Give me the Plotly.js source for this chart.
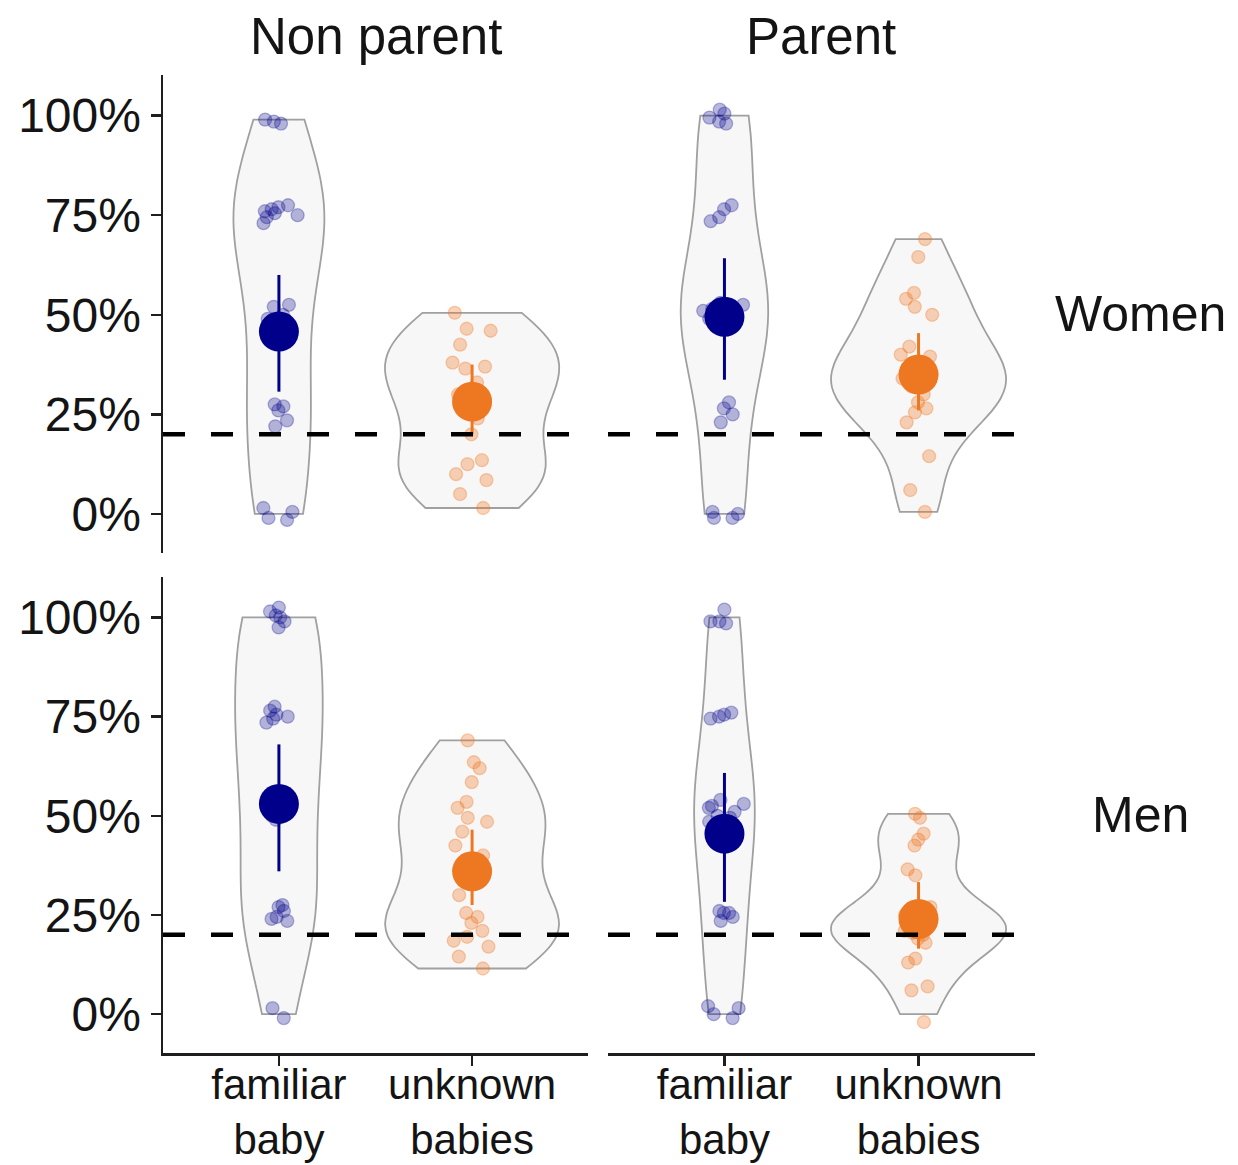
<!DOCTYPE html>
<html><head><meta charset="utf-8">
<script src="https://cdn.plot.ly/plotly-3.0.1.min.js"></script>
<style>html,body{margin:0;padding:0;background:#fff}</style>
</head><body><div id="chart" style="width:1238px;height:1165px"></div>
<script>
// ---------- data ----------
const parentStatus = ['Non parent', 'Parent'];
const genders = ['Women', 'Men'];
const conditions = ['familiar baby', 'unknown babies'];
const conditionLabels = ['familiar<br>baby', 'unknown<br>babies'];
const yTickValues = [0, 25, 50, 75, 100];
const yTickLabels = ['0%', '25%', '50%', '75%', '100%'];
const chanceLevel = 20;

// individual scores (% correct), as read from the plotted (jittered) points
const womenNonParentFamiliar = [98, 98.5, 99, 77.5, 77, 76.5, 76, 75.5, 75, 74.5, 73, 52, 52.5, 50, 49, 27.5, 27, 26, 23.5, 22, 1.5, 0.5, -1.5, -1];
const womenNonParentUnknown = [50.5, 46.5, 46, 42.5, 38, 37, 36.5, 33, 30, 26, 24, 20, 13.5, 12.5, 10, 8.5, 5, 1.5];
const womenParentFamiliar = [101.5, 100.5, 99.5, 98.5, 98, 77.5, 76.5, 74.5, 73.5, 53, 52.5, 51.5, 51, 50.5, 50, 49.5, 49, 48.5, 28, 26.5, 25, 23, 0.5, 0, -1, -1];
const womenParentUnknown = [69, 64.5, 55.5, 54, 52, 50, 42, 40, 39.5, 37, 36, 34, 32, 30, 28, 26.5, 25.5, 23, 14.5, 6, 0.5];
const menNonParentFamiliar = [102.5, 101.5, 100.5, 100, 99, 97.5, 77.5, 76.5, 75.5, 75, 74.5, 73.5, 55, 53, 51.5, 50, 49, 27.5, 27, 26, 24.5, 24, 23.5, 1.5, -1];
const menNonParentUnknown = [69, 63.5, 62, 58.5, 53.5, 52, 49.5, 48.5, 46, 42.5, 40, 36, 33, 30, 25.5, 24.5, 23, 21, 19.5, 18.5, 17, 14.5, 11.5];
const menParentFamiliar = [102, 99, 99, 98.5, 76, 75.5, 75, 74.5, 54, 53, 52.5, 52, 51, 50, 49.5, 48.5, 26, 25.5, 25.5, 24.5, 23.5, 2, 1.5, 0, -1];
const menParentUnknown = [50.5, 49.5, 45.5, 44, 42.5, 36.5, 35, 27, 26, 25, 24, 23, 22, 21, 20.5, 20, 19, 18, 14, 13, 7, 6, -2];

// summary: mean and interval [familiar, unknown]
const womenNonParentMean = [45.8, 28.2], womenNonParentLow = [30.7, 20], womenNonParentHigh = [60, 37.5];
const womenParentMean = [49.5, 35], womenParentLow = [33.7, 26], womenParentHigh = [64.2, 45.4];
const menNonParentMean = [53, 36], menNonParentLow = [36, 27.5], menNonParentHigh = [68, 46.5];
const menParentMean = [45.5, 24], menParentLow = [28.3, 16.5], menParentHigh = [60.8, 33.3];

// ---------- styling ----------
const meanColors = ['#00008B', '#EE7722'];
const pointColors = ['rgba(0,0,139,0.28)', 'rgba(238,119,34,0.32)'];
const FONT = 'Liberation Sans, Arial, Helvetica, sans-serif';
const TXT = '#141414';
const AX = '#1e1e1e';
const VIOLIN_WIDTH = 0.9;

const colDomains = [[163 / 1238, 588 / 1238], [608 / 1238, 1035 / 1238]];
const rowDomains = [[(1165 - 553) / 1165, (1165 - 75) / 1165], [(1165 - 1053) / 1165, (1165 - 577) / 1165]];

const panels = [
  {row: 0, col: 0, data: [womenNonParentFamiliar, womenNonParentUnknown], mean: womenNonParentMean, low: womenNonParentLow, high: womenNonParentHigh},
  {row: 0, col: 1, data: [womenParentFamiliar, womenParentUnknown], mean: womenParentMean, low: womenParentLow, high: womenParentHigh},
  {row: 1, col: 0, data: [menNonParentFamiliar, menNonParentUnknown], mean: menNonParentMean, low: menNonParentLow, high: menNonParentHigh},
  {row: 1, col: 1, data: [menParentFamiliar, menParentUnknown], mean: menParentMean, low: menParentLow, high: menParentHigh}
];

function quantile(sorted, p) {
  const h = (sorted.length - 1) * p, lo = Math.floor(h), hi = Math.ceil(h);
  return sorted[lo] + (h - lo) * (sorted[hi] - sorted[lo]);
}
function nrd0(v) {
  const n = v.length;
  const m = v.reduce((a, b) => a + b, 0) / n;
  const sd = Math.sqrt(v.reduce((a, b) => a + (b - m) * (b - m), 0) / (n - 1));
  const s = v.slice().sort((a, b) => a - b);
  const iqr = quantile(s, 0.75) - quantile(s, 0.25);
  let lo = Math.min(sd, iqr / 1.34);
  if (!lo) lo = sd || 1;
  return 0.9 * lo * Math.pow(n, -0.2);
}
function kdeMax(vals, bw, lo, hi) {
  let best = 0;
  for (let i = 0; i <= 300; i++) {
    const t = lo + (hi - lo) * i / 300;
    let s = 0;
    for (const v of vals) { const z = (t - v) / bw; s += Math.exp(-0.5 * z * z); }
    s /= vals.length * bw * Math.sqrt(2 * Math.PI);
    if (s > best) best = s;
  }
  return best;
}

const traces = [];
const layout = {
  width: 1238, height: 1165,
  margin: {l: 0, r: 0, t: 0, b: 0},
  paper_bgcolor: '#ffffff', plot_bgcolor: 'rgba(0,0,0,0)',
  showlegend: false, violinmode: 'overlay',
  font: {family: FONT, color: TXT},
  shapes: [], annotations: []
};

panels.forEach((p, i) => {
  const idx = i === 0 ? '' : String(i + 1);
  const xa = 'x' + idx, ya = 'y' + idx;
  // per-violin density stats (area scaling within a panel, as in ggplot's scale = "area")
  const stats = p.data.map(vals => {
    const mn = Math.min.apply(null, vals), mx = Math.max.apply(null, vals);
    const span = [Math.max(0, mn), Math.min(100, mx)];
    const bw = nrd0(vals);
    return {span, bw, peak: kdeMax(vals, bw, span[0], span[1])};
  });
  const panelPeak = Math.max.apply(null, stats.map(s => s.peak));
  p.data.forEach((vals, k) => {
    const st = stats[k];
    traces.push({
      type: 'violin', xaxis: xa, yaxis: ya,
      x: vals.map(() => conditions[k]), y: vals,
      width: VIOLIN_WIDTH * st.peak / panelPeak, scalegroup: 'v' + i + '_' + k, scalemode: 'width',
      spanmode: 'manual', span: st.span,
      bandwidth: st.bw,
      fillcolor: '#F7F7F7', line: {color: '#A0A0A0', width: 1.8},
      points: 'all', jitter: 0.25 * panelPeak / st.peak, pointpos: 0,
      marker: {size: 13, color: pointColors[k], line: {color: pointColors[k], width: 1.3}},
      box: {visible: false}, meanline: {visible: false},
      hoverinfo: 'skip', showlegend: false
    });
  });
  p.mean.forEach((m, k) => {
    traces.push({
      type: 'scatter', mode: 'markers', xaxis: xa, yaxis: ya,
      x: [conditions[k]], y: [m],
      marker: {size: 40, color: meanColors[k], line: {width: 0}},
      error_y: {type: 'data', symmetric: false, array: [p.high[k] - m], arrayminus: [m - p.low[k]],
        color: meanColors[k], thickness: 3, width: 0},
      hoverinfo: 'skip', showlegend: false
    });
  });

  const bottom = p.row === 1, left = p.col === 0;
  layout['xaxis' + idx] = {
    domain: colDomains[p.col], anchor: ya,
    type: 'category', categoryorder: 'array', categoryarray: conditions,
    range: [-0.6, 1.6], showgrid: false, zeroline: false, fixedrange: true,
    showline: bottom, linecolor: AX, linewidth: 2.5,
    ticks: bottom ? 'outside' : '', ticklen: 10, tickwidth: 2.5, tickcolor: AX,
    showticklabels: bottom, tickmode: 'array', tickvals: conditions, ticktext: conditionLabels,
    ticklabelstandoff: -17,
    tickfont: {family: FONT, size: 42, color: TXT}
  };
  layout['yaxis' + idx] = {
    domain: rowDomains[p.row], anchor: xa,
    range: [-9.8, 110.2], showgrid: false, zeroline: false, fixedrange: true,
    showline: left, linecolor: AX, linewidth: 2.5,
    ticks: left ? 'outside' : '', ticklen: 10, tickwidth: 2.5, tickcolor: AX,
    showticklabels: left, tickmode: 'array', tickvals: yTickValues, ticktext: yTickLabels,
    tickfont: {family: FONT, size: 48, color: TXT}
  };
  layout.shapes.push({
    type: 'line', xref: xa + ' domain', yref: ya, x0: 0, x1: 1, y0: chanceLevel, y1: chanceLevel,
    line: {color: '#000000', width: 4.5, dash: '22px,26px'}, layer: 'above'
  });
});

parentStatus.forEach((s, c) => {
  layout.annotations.push({
    text: s, xref: 'paper', yref: 'paper', showarrow: false,
    x: (colDomains[c][0] + colDomains[c][1]) / 2, y: (1165 - 36) / 1165,
    xanchor: 'center', yanchor: 'middle', font: {family: FONT, size: 51, color: TXT}
  });
});
genders.forEach((g, r) => {
  layout.annotations.push({
    text: g, xref: 'paper', yref: 'paper', showarrow: false,
    x: 1140 / 1238, y: (rowDomains[r][0] + rowDomains[r][1]) / 2,
    xanchor: 'center', yanchor: 'middle', font: {family: FONT, size: 50, color: TXT}
  });
});

Plotly.newPlot('chart', traces, layout, {displayModeBar: false, staticPlot: true});
</script>
</body></html>
